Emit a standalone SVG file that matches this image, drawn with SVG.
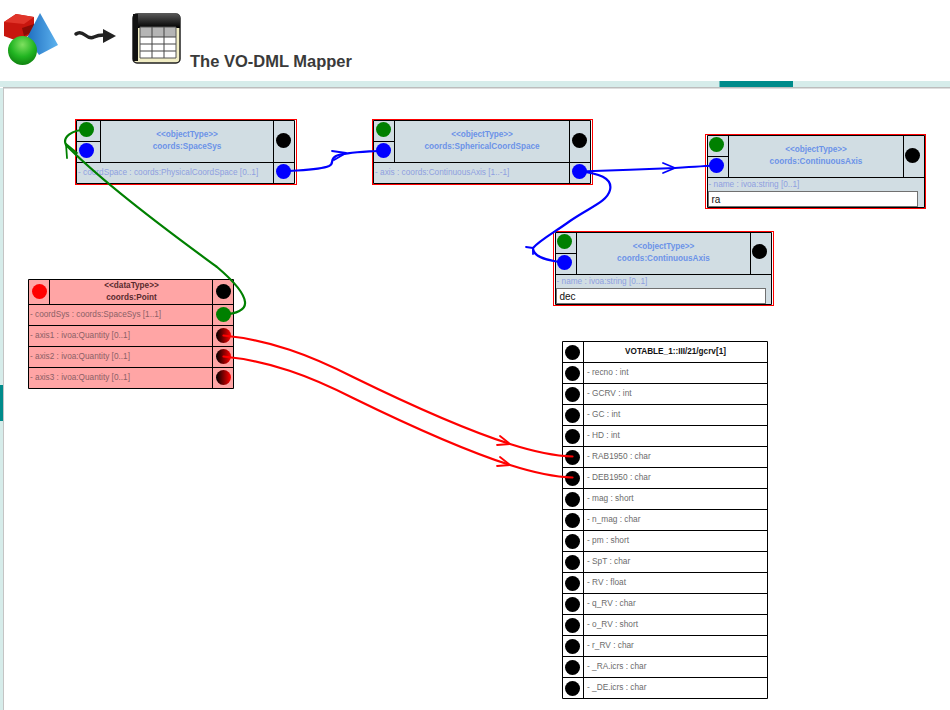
<svg xmlns="http://www.w3.org/2000/svg" width="950" height="710" viewBox="0 0 950 710">
<style>
text{font-family:"Liberation Sans",Arial,sans-serif}
.cell{fill:none;stroke:#000;stroke-width:1}
.red{fill:none;stroke:#f00;stroke-width:1}
.obj{fill:#d1dde3}
.dt{fill:#ffa5a5}
.h{font-size:8.200px;font-weight:bold;text-anchor:middle;fill:#6c93e8}
.a{font-size:8.250px;fill:#8f9fe0}
.dh{font-size:8.200px;font-weight:bold;text-anchor:middle;fill:#5a2a2e}
.da{font-size:8.250px;fill:#8c5f66}
.va{font-size:8.300px;fill:#6b6b6b}
.vh{font-size:8.200px;font-weight:bold;text-anchor:middle;fill:#111}
.input{fill:#fff;stroke:#707070;stroke-width:1}
.inp{font-size:10px;fill:#111}
.conn{fill:none;stroke-linecap:round;stroke-width:2.200}
.barb{fill:none;stroke-linecap:round;stroke-width:1.800}
</style>
<defs>
<linearGradient id="dark" x1="0" x2="1" y1="0" y2="0"><stop offset="0" stop-color="#000"/><stop offset="1" stop-color="#f00"/></linearGradient>
<radialGradient id="ball" cx="0.5" cy="0.3" r="0.75"><stop offset="0" stop-color="#7fe060"/><stop offset="0.55" stop-color="#22b522"/><stop offset="1" stop-color="#0c7a0c"/></radialGradient>
<linearGradient id="pyr" x1="0" x2="1" y1="0" y2="0"><stop offset="0" stop-color="#1f6fc0"/><stop offset="1" stop-color="#5db2ee"/></linearGradient>
<linearGradient id="thead" x1="0" x2="0" y1="0" y2="1"><stop offset="0" stop-color="#555"/><stop offset="1" stop-color="#000"/></linearGradient>
</defs>
<rect width="950" height="710" fill="#fff"/>
<g id="header">
<path d="M4 22L16 14L34 17V31L20 42L4 36Z" fill="#c8160e"/>
<path d="M16 14L34 17L24 24L4 22Z" fill="#e0352a"/>
<path d="M24 36L34 31V24L22 28Z" fill="#8a0c06"/>
<path d="M40 13L58 45L39 55L27 38Z" fill="url(#pyr)"/>
<circle cx="22.500" cy="50.500" r="14.500" fill="url(#ball)"/>
<path d="M76 34Q80 31 85 35T94 37T104 35" fill="none" stroke="#222" stroke-width="3.500" stroke-linecap="round"/>
<path d="M103 29L116 36L103 43Z" fill="#222"/>
<rect x="133" y="14" width="47" height="49" rx="4" fill="#f1edc4" stroke="#222" stroke-width="1.500"/>
<path d="M133 28V18Q133 14 137 14H176Q180 14 180 18V28Z" fill="url(#thead)"/>
<rect x="133" y="14" width="5" height="47" fill="#111"/>
<rect x="140" y="27" width="36" height="31" fill="#fff"/>
<rect x="140" y="27" width="36" height="10" fill="#b5b5b5"/>
<path d="M140 37H176M140 44H176M140 51H176M152 27V58M164 27V58" stroke="#444" stroke-width="1"/>
<path d="M140 27H176V58H140Z" fill="none" stroke="#555" stroke-width="1"/>
<text x="190" y="66.500" font-size="16.500" font-weight="bold" fill="#3a3a3a">The VO-DML Mapper</text>
<rect x="0" y="81" width="950" height="6" fill="#d6ecea"/>
<rect x="719.500" y="81" width="73.500" height="6" fill="#008b8b"/>
<rect x="3" y="87" width="947" height="1.500" fill="#bdbdbd"/>
<rect x="0" y="88" width="3" height="622" fill="#d6ecea"/>
<rect x="3" y="88" width="1" height="622" fill="#c4c4c4"/>
<rect x="0" y="385" width="3" height="36" fill="#008b8b"/>
</g>

<g id="node-spacesys">
<rect class="obj" x="76.500" y="120.500" width="218" height="63"/>
<path class="cell" d="M76.500 120.500H294.500V183.500H76.500ZM100.500 120.500V162.500M273.500 120.500V183.500M76.500 162.500H294.500M76.500 141.500H100.500"/>
<rect class="red" x="75.500" y="119.500" width="221" height="65"/>
<circle cx="86.500" cy="129.500" r="7.500" fill="#008000"/><circle cx="86.500" cy="150.500" r="7.500" fill="#00f"/>
<circle cx="283.500" cy="140.500" r="7.500" fill="#000"/><circle cx="283.500" cy="171.500" r="7.500" fill="#00f"/>
<text class="h" x="187" y="137">&lt;&lt;objectType&gt;&gt;</text><text class="h" x="187" y="149">coords:SpaceSys</text>
<text class="a" x="78" y="175">- coordSpace : coords:PhysicalCoordSpace [0..1]</text>
</g>

<g id="node-sphericalcoordspace">
<rect class="obj" x="373.500" y="120.500" width="217" height="63"/>
<path class="cell" d="M373.500 120.500H590.500V183.500H373.500ZM394.500 120.500V162.500M569.500 120.500V183.500M373.500 162.500H590.500M373.500 141.500H394.500"/>
<rect class="red" x="372.500" y="119.500" width="220" height="65"/>
<circle cx="383.500" cy="129.500" r="7.500" fill="#008000"/><circle cx="383.500" cy="150.500" r="7.500" fill="#00f"/>
<circle cx="579.500" cy="140.500" r="7.500" fill="#000"/><circle cx="579.500" cy="171.500" r="7.500" fill="#00f"/>
<text class="h" x="482" y="137">&lt;&lt;objectType&gt;&gt;</text><text class="h" x="482" y="149">coords:SphericalCoordSpace</text>
<text class="a" x="375" y="175">- axis : coords:ContinuousAxis [1..-1]</text>
</g>

<g id="node-axis-ra">
<rect class="obj" x="707.500" y="135.500" width="217" height="72"/>
<path class="cell" d="M707.500 135.500H924.500V207.500H707.500ZM728.500 135.500V177.500M903.500 135.500V177.500M707.500 177.500H924.500M707.500 156.500H728.500"/>
<rect class="red" x="705.500" y="134.500" width="220" height="74"/>
<circle cx="716.500" cy="144.500" r="7.500" fill="#008000"/><circle cx="716.500" cy="165.500" r="7.500" fill="#00f"/>
<circle cx="912.500" cy="155.500" r="7.500" fill="#000"/>
<text class="h" x="816" y="152">&lt;&lt;objectType&gt;&gt;</text><text class="h" x="816" y="164">coords:ContinuousAxis</text>
<text class="a" x="708.500" y="187">- name : ivoa:string [0..1]</text>
<rect class="input" x="708.500" y="191.500" width="209" height="15"/>
<text class="inp" x="711.500" y="203">ra</text>
</g>

<g id="node-axis-dec">
<rect class="obj" x="555.500" y="232.500" width="216" height="72"/>
<path class="cell" d="M555.500 232.500H771.500V304.500H555.500ZM576.500 232.500V274.500M750.500 232.500V274.500M555.500 274.500H771.500M555.500 253.500H576.500"/>
<rect class="red" x="553.500" y="231.500" width="220" height="74"/>
<circle cx="564.500" cy="241.500" r="7.500" fill="#008000"/><circle cx="564.500" cy="262.500" r="7.500" fill="#00f"/>
<circle cx="759.500" cy="251.500" r="7.500" fill="#000"/>
<text class="h" x="663.500" y="249">&lt;&lt;objectType&gt;&gt;</text><text class="h" x="663.500" y="261">coords:ContinuousAxis</text>
<text class="a" x="556.500" y="284">- name : ivoa:string [0..1]</text>
<rect class="input" x="556.500" y="288.500" width="209" height="15"/>
<text class="inp" x="559.500" y="300">dec</text>
</g>

<g id="node-point">
<rect class="dt" x="28.500" y="279.500" width="205" height="109"/>
<path class="cell" d="M28.500 279.500H233.500V388.500H28.500ZM49.500 279.500V304.500M212.500 279.500V388.500M28.500 304.500H233.500M28.500 325.500H233.500M28.500 346.500H233.500M28.500 367.500H233.500"/>
<circle cx="39.500" cy="291.500" r="7.500" fill="#f00"/>
<circle cx="223.500" cy="291.500" r="7.500" fill="#000"/>
<circle cx="223.500" cy="314.500" r="7.500" fill="#008000"/>
<circle cx="223.500" cy="335.500" r="7.500" fill="url(#dark)"/>
<circle cx="223.500" cy="356.500" r="7.500" fill="url(#dark)"/>
<circle cx="223.500" cy="377.500" r="7.500" fill="url(#dark)"/>
<text class="dh" x="131.500" y="288">&lt;&lt;dataType&gt;&gt;</text><text class="dh" x="131.500" y="300">coords:Point</text>
<text class="da" x="30" y="317">- coordSys : coords:SpaceSys [1..1]</text>
<text class="da" x="30" y="338">- axis1 : ivoa:Quantity [0..1]</text>
<text class="da" x="30" y="359">- axis2 : ivoa:Quantity [0..1]</text>
<text class="da" x="30" y="380">- axis3 : ivoa:Quantity [0..1]</text>
</g>

<g id="node-votable">
<rect x="562.500" y="341.500" width="205" height="357" fill="#fff"/>
<path class="cell" d="M562.500 341.500H767.500V698.500H562.500ZM583.500 341.500V698.500M562.500 362.500H767.500M562.500 383.500H767.500M562.500 404.500H767.500M562.500 425.500H767.500M562.500 446.500H767.500M562.500 467.500H767.500M562.500 488.500H767.500M562.500 509.500H767.500M562.500 530.500H767.500M562.500 551.500H767.500M562.500 572.500H767.500M562.500 593.500H767.500M562.500 614.500H767.500M562.500 635.500H767.500M562.500 656.500H767.500M562.500 677.500H767.500"/>
<g fill="#000">
<circle cx="572.500" cy="352.500" r="7.500"/><circle cx="572.500" cy="373.500" r="7.500"/><circle cx="572.500" cy="394.500" r="7.500"/><circle cx="572.500" cy="415.500" r="7.500"/><circle cx="572.500" cy="436.500" r="7.500"/><circle cx="572.500" cy="457.500" r="7.500"/><circle cx="572.500" cy="478.500" r="7.500"/><circle cx="572.500" cy="499.500" r="7.500"/><circle cx="572.500" cy="520.500" r="7.500"/><circle cx="572.500" cy="541.500" r="7.500"/><circle cx="572.500" cy="562.500" r="7.500"/><circle cx="572.500" cy="583.500" r="7.500"/><circle cx="572.500" cy="604.500" r="7.500"/><circle cx="572.500" cy="625.500" r="7.500"/><circle cx="572.500" cy="646.500" r="7.500"/><circle cx="572.500" cy="667.500" r="7.500"/><circle cx="572.500" cy="688.500" r="7.500"/>
</g>
<text class="vh" x="675.500" y="354">VOTABLE_1::III/21/gcrv[1]</text>
<text class="va" x="587" y="375">- recno : int</text>
<text class="va" x="587" y="396">- GCRV : int</text>
<text class="va" x="587" y="417">- GC : int</text>
<text class="va" x="587" y="438">- HD : int</text>
<text class="va" x="587" y="459">- RAB1950 : char</text>
<text class="va" x="587" y="480">- DEB1950 : char</text>
<text class="va" x="587" y="501">- mag : short</text>
<text class="va" x="587" y="522">- n_mag : char</text>
<text class="va" x="587" y="543">- pm : short</text>
<text class="va" x="587" y="564">- SpT : char</text>
<text class="va" x="587" y="585">- RV : float</text>
<text class="va" x="587" y="606">- q_RV : char</text>
<text class="va" x="587" y="627">- o_RV : short</text>
<text class="va" x="587" y="648">- r_RV : char</text>
<text class="va" x="587" y="669">- _RA.icrs : char</text>
<text class="va" x="587" y="690">- _DE.icrs : char</text>
</g>

<g id="connectors">
<path class="conn" stroke="#008000" d="M223.500 314.500C236 314 246 310 245 302C244 292 230 278 217 267C190 247 110 190 66 145C62 137 72 130 86.500 129.500"/>
<path class="barb" stroke="#008000" d="M66 144L67 158M66 144L77 153"/>
<path class="conn" stroke="#00f" d="M283.500 171.500C300 170 320 170 329 166C335 163 329 160 336 156C345 152 365 152 383.500 150.500"/>
<path class="barb" stroke="#00f" d="M346 153L332 151M346 153L334 160"/>
<path class="conn" stroke="#00f" d="M579.500 171.500C600 171 650 169 675 168C690 167 705 166 716.500 165.500"/>
<path class="barb" stroke="#00f" d="M675 168L663 163M675 168L663 173"/>
<path class="conn" stroke="#00f" d="M579.500 171.500C598 173 613 178 610 190C607 202 590 207 570 221C555 232 540 240 533 248C533 258 550 261 564.500 262.500"/>
<path class="barb" stroke="#00f" d="M533 248L526 247M533 248L533 254"/>
<path class="conn" stroke="#f00" d="M223.500 335.500C270 340 310 355 353 377C400 400 460 428 510 444C535 452 555 456 572.500 456.500"/>
<path class="barb" stroke="#f00" d="M510 444L500 436M510 444L497 445"/>
<path class="conn" stroke="#f00" d="M223.500 356.500C270 361 310 376 353 398C400 421 460 449 510 465C535 473 555 477 572.500 477.500"/>
<path class="barb" stroke="#f00" d="M510 465L500 457M510 465L497 466"/>
</g>
</svg>
